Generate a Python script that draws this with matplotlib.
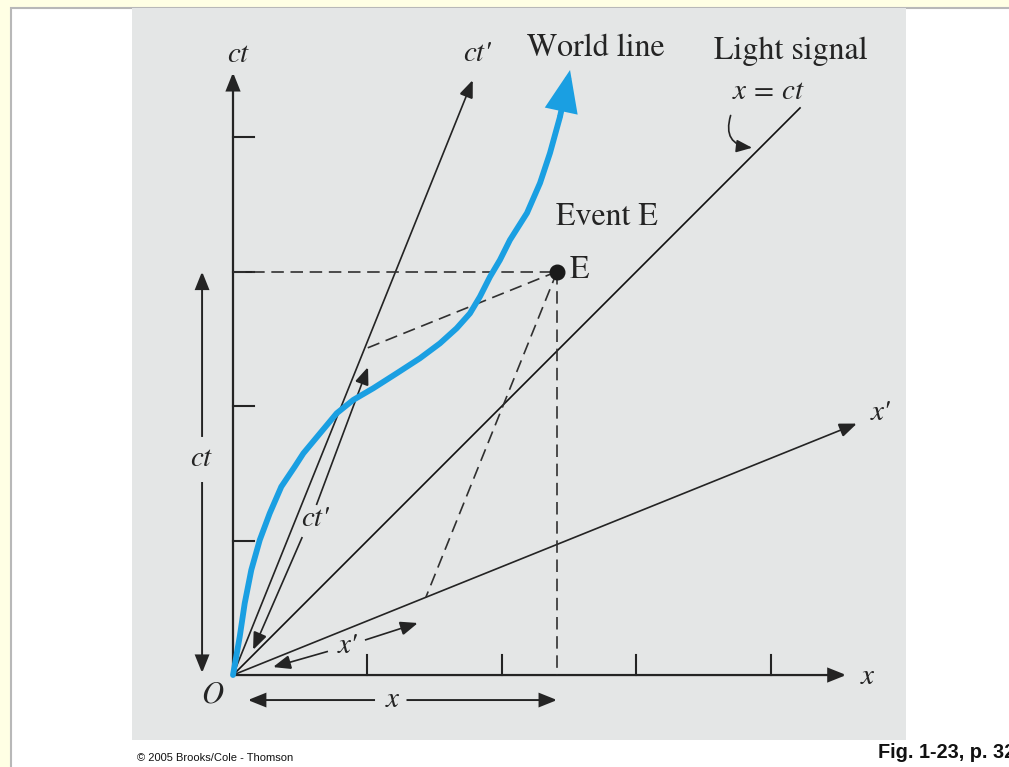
import numpy as np
import matplotlib.pyplot as plt
from matplotlib.patches import Rectangle, FancyArrowPatch

plt.rcParams['mathtext.fontset'] = 'stix'
plt.rcParams['font.family'] = ['STIXGeneral', 'DejaVu Serif']

# tick positions on the x and ct axes (grid units)
ticks = [1, 2, 3, 4]
# slope of the x' axis (1/slope of ct' axis)
beta = 0.403
# event E
event_x = 2.41
event_ct = 3.0
# world line
world_x = [0.0, 0.050, 0.087, 0.136, 0.199, 0.273, 0.359, 0.459, 0.523, 0.647,
           0.771, 0.894, 1.043, 1.217, 1.390, 1.539, 1.663, 1.762, 1.836, 1.911,
           1.985, 2.059, 2.186, 2.283, 2.357, 2.431, 2.506]
world_ct = [0.0, 0.285, 0.533, 0.781, 1.004, 1.202, 1.400, 1.549, 1.648, 1.797,
            1.946, 2.045, 2.132, 2.243, 2.355, 2.466, 2.578, 2.689, 2.813, 2.961,
            3.086, 3.234, 3.435, 3.658, 3.881, 4.149, 4.498]
# axis lengths
ct_len = 4.48
x_len = 4.56
ctp_len = 4.424
xp_len = 4.639
light_len = 4.216

INK = '#242424'
BLUE = '#1a9fe2'
GRAY_BG = '#e4e6e6'
MATH = dict(fontsize=21, ha='center', va='center', color=INK)
ITAL = dict(fontsize=21, ha='center', va='center', color=INK, fontstyle='italic',
            family=['STIXGeneral', 'DejaVu Serif'])
WORDS = dict(fontsize=23, ha='center', va='center', color=INK)

fig = plt.figure(figsize=(10.09, 7.67), dpi=100)
fig.patch.set_facecolor('#ffffe4')
fig.patches.append(Rectangle((10.5 / 1009, -0.01), 1.02, (767 - 7.5) / 767 + 0.01,
                             transform=fig.transFigure, facecolor='white',
                             edgecolor='#b8b8b8', lw=1.5, zorder=-5))

ax = fig.add_axes([132 / 1009, 27 / 767, 774 / 1009, 732 / 767])
ax.set_zorder(2)
ax.set_facecolor(GRAY_BG)
for s in ax.spines.values():
    s.set_visible(False)
ax.set_xticks([])
ax.set_yticks([])
ax.set_xlim(-0.751, 5.004)
ax.set_ylim(-0.483, 4.959)


def arrow(p0, p1, lw=1.4, ms=18, hl=0.6, hw=0.24, color=INK, style='-|>'):
    a = FancyArrowPatch(p0, p1, arrowstyle=f'{style},head_length={hl},head_width={hw}',
                        mutation_scale=ms, lw=lw, color=color,
                        shrinkA=0, shrinkB=0, joinstyle='miter', capstyle='butt')
    ax.add_patch(a)


# main axes
arrow((0, 0), (0, ct_len), lw=1.6)
arrow((0, 0), (x_len, 0), lw=1.6)
for t in ticks:
    ax.plot([0, 0.155], [t, t], color=INK, lw=1.5)
    ax.plot([t, t], [0, 0.15], color=INK, lw=1.5)

# primed axes and the light signal
arrow((0, 0), (ctp_len * beta, ctp_len), lw=1.2)
arrow((0, 0), (xp_len, xp_len * beta), lw=1.2)
ax.plot([0, light_len], [0, light_len], color='#111111', lw=1.2)

# dashed projections of E
dash = dict(color='#303030', lw=1.2, ls=(0, (7.5, 4)))
ax.plot([0, event_x], [event_ct, event_ct], **dash)
ax.plot([event_x, event_x], [event_ct, 0], **dash)
k = (event_x - beta * event_ct) / (1 - beta ** 2)
ax.plot([event_x, event_x - k], [event_ct, event_ct - k * beta], **dash)
m = (event_ct - beta * event_x) / (1 - beta ** 2)
ax.plot([event_x, event_x - m * beta], [event_ct, event_ct - m], **dash)

# world line
ax.plot(world_x[:-1], world_ct[:-1], color=BLUE, lw=4.2,
        solid_capstyle='round', solid_joinstyle='round')
arrow((world_x[-2], world_ct[-2]), (world_x[-1], world_ct[-1]),
      lw=4.2, ms=30, hl=0.75, hw=0.3, color=BLUE)

# event dot
ax.plot([event_x], [event_ct], 'o', color='#1a1a1a', ms=10.5)

# dimension arrows
# ct
arrow((-0.23, 1.77), (-0.23, 3.0))
arrow((-0.23, 1.435), (-0.23, 0.015))
ax.text(-0.23, 1.605, '$ct$', **MATH)
# x
arrow((1.056, -0.186), (0.11, -0.186))
arrow((1.29, -0.186), (2.41, -0.186))
ax.text(1.19, -0.186, '$x$', **MATH)
# ct'
arrow((0.515, 1.026), (0.149, 0.186), lw=1.2)
arrow((0.62, 1.264), (1.004, 2.29), lw=1.2)
ax.text(0.61, 1.16, "ct'", **ITAL)
# x'
arrow((0.706, 0.176), (0.297, 0.059), lw=1.2)
arrow((0.981, 0.260), (1.375, 0.387), lw=1.2)
ax.text(0.85, 0.215, "x'", **ITAL)

# axis labels
ax.text(0.04, 4.61, '$ct$', **MATH)
ax.text(4.72, -0.02, '$x$', **MATH)
ax.text(1.81, 4.62, "ct'", **ITAL)
ax.text(4.81, 1.95, "x'", **ITAL)
ax.text(-0.15, -0.15, '$O$', fontsize=22, ha='center', va='center', color=INK)

# annotations
ax.text(2.70, 4.66, 'World line', **WORDS)
ax.text(4.15, 4.64, 'Light signal', **WORDS)
ax.text(3.98, 4.33, '$x\\,=\\,ct$', **MATH)
ax.add_patch(FancyArrowPatch((3.70, 4.16), (3.86, 3.92),
                             connectionstyle='arc3,rad=0.6',
                             arrowstyle='-|>,head_length=0.6,head_width=0.24',
                             mutation_scale=16, lw=1.2, color=INK,
                             shrinkA=0, shrinkB=0))
ax.text(2.78, 3.40, 'Event E', **WORDS)
ax.text(2.50, 3.01, 'E', fontsize=23, ha='left', va='center', color=INK)

# footer texts
fig.text(137 / 1009, 1 - 758 / 767, '\u00a9 2005 Brooks/Cole - Thomson',
         fontsize=8, family='Liberation Sans', ha='left', va='center', color='#111111')
fig.text(878 / 1009, 1 - 752 / 767, 'Fig. 1-23, p. 32', fontsize=14.3,
         family='Liberation Sans', weight='bold', ha='left', va='center', color='#111111')

fig.savefig('out.png', dpi=100, facecolor=fig.get_facecolor())
